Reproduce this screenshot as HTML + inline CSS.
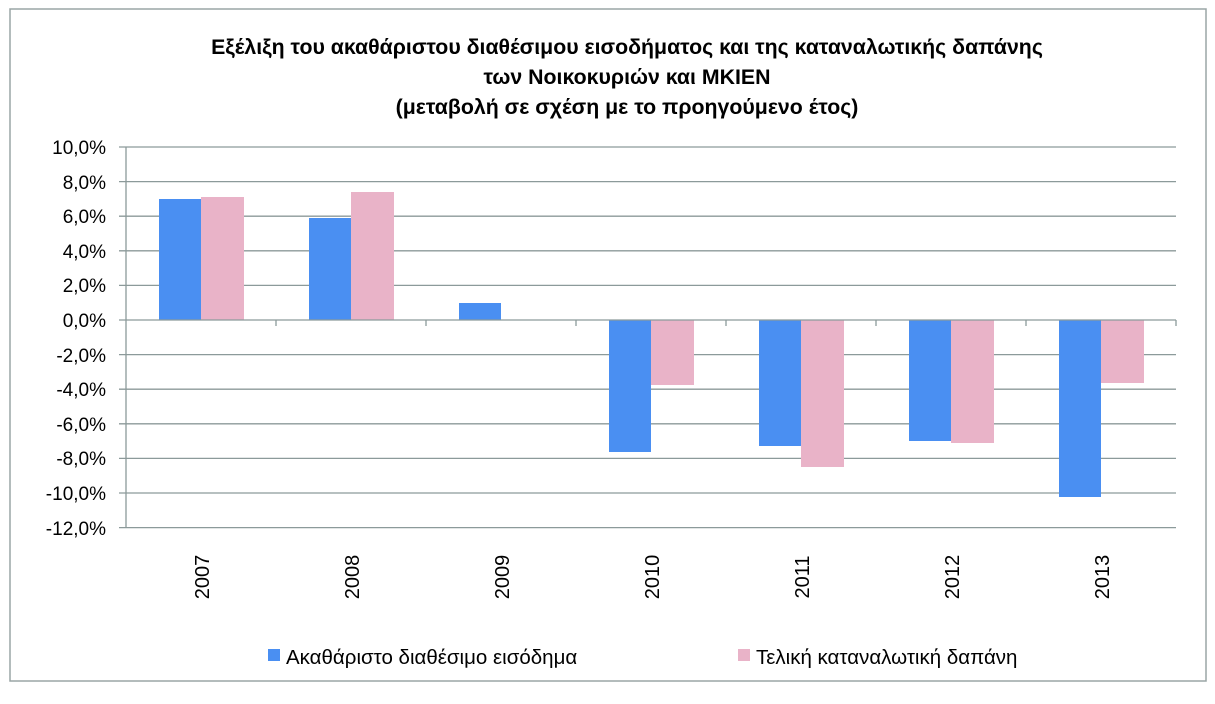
<!DOCTYPE html>
<html><head><meta charset="utf-8"><style>
body{margin:0;background:#fff}
svg{display:block}
text{font-family:"Liberation Sans","DejaVu Sans",sans-serif;fill:#000}
</style></head><body>
<svg width="1215" height="704" viewBox="0 0 1215 704">
<rect x="10" y="9" width="1196" height="672" fill="#fff" stroke="#9aa5a5" stroke-width="1.5"/>
<g text-anchor="middle" font-weight="bold" font-size="21.3">
<text x="627" y="54">Εξέλιξη του ακαθάριστου διαθέσιμου εισοδήματος και της καταναλωτικής δαπάνης</text>
<text x="627" y="84">των Νοικοκυριών και ΜΚΙΕΝ</text>
<text x="627" y="114">(μεταβολή σε σχέση με το προηγούμενο έτος)</text>
</g>
<g stroke="#8c9a9a" stroke-width="1.3">
<line x1="119" y1="147" x2="1176" y2="147"/>
<line x1="119" y1="181.6" x2="1176" y2="181.6"/>
<line x1="119" y1="216.2" x2="1176" y2="216.2"/>
<line x1="119" y1="250.8" x2="1176" y2="250.8"/>
<line x1="119" y1="285.4" x2="1176" y2="285.4"/>
<line x1="119" y1="354.6" x2="1176" y2="354.6"/>
<line x1="119" y1="389.2" x2="1176" y2="389.2"/>
<line x1="119" y1="423.8" x2="1176" y2="423.8"/>
<line x1="119" y1="458.4" x2="1176" y2="458.4"/>
<line x1="119" y1="493" x2="1176" y2="493"/>
<line x1="119" y1="527.6" x2="1176" y2="527.6"/>
<line x1="126" y1="147" x2="126" y2="528"/>
</g>
<g fill="#4a8ff2">
<rect x="159" y="199" width="42" height="121"/>
<rect x="309" y="218" width="42" height="102"/>
<rect x="459" y="303" width="42" height="17"/>
<rect x="609" y="320" width="42" height="132"/>
<rect x="759" y="320" width="42" height="126"/>
<rect x="909" y="320" width="42" height="121"/>
<rect x="1059" y="320" width="42" height="177"/>
</g>
<g fill="#e9b3c8">
<rect x="201" y="197" width="43" height="123"/>
<rect x="351" y="192" width="43" height="128"/>
<rect x="651" y="320" width="43" height="65"/>
<rect x="801" y="320" width="43" height="147"/>
<rect x="951" y="320" width="43" height="123"/>
<rect x="1101" y="320" width="43" height="63"/>
</g>
<g stroke="#8c9a9a" stroke-width="1.3">
<line x1="119" y1="320" x2="1176" y2="320"/>
<line x1="276" y1="320" x2="276" y2="326"/>
<line x1="426" y1="320" x2="426" y2="326"/>
<line x1="576" y1="320" x2="576" y2="326"/>
<line x1="726" y1="320" x2="726" y2="326"/>
<line x1="876" y1="320" x2="876" y2="326"/>
<line x1="1026" y1="320" x2="1026" y2="326"/>
<line x1="1176" y1="320" x2="1176" y2="326"/>
</g>
<g text-anchor="end" font-size="19">
<text x="106" y="154">10,0%</text>
<text x="106" y="189">8,0%</text>
<text x="106" y="223">6,0%</text>
<text x="106" y="258">4,0%</text>
<text x="106" y="292">2,0%</text>
<text x="106" y="327">0,0%</text>
<text x="106" y="362">-2,0%</text>
<text x="106" y="396">-4,0%</text>
<text x="106" y="431">-6,0%</text>
<text x="106" y="465">-8,0%</text>
<text x="106" y="500">-10,0%</text>
<text x="106" y="535">-12,0%</text>
</g>
<g font-size="20" text-anchor="middle">
<text transform="translate(209,577) rotate(-90)">2007</text>
<text transform="translate(359,577) rotate(-90)">2008</text>
<text transform="translate(509,577) rotate(-90)">2009</text>
<text transform="translate(659,577) rotate(-90)">2010</text>
<text transform="translate(809,577) rotate(-90)">2011</text>
<text transform="translate(959,577) rotate(-90)">2012</text>
<text transform="translate(1109,577) rotate(-90)">2013</text>
</g>
<rect x="268" y="649" width="12" height="12" fill="#4a8ff2"/>
<text x="286" y="664" font-size="20.5">Ακαθάριστο διαθέσιμο εισόδημα</text>
<rect x="738" y="649" width="12" height="12" fill="#e9b3c8"/>
<text x="756" y="664" font-size="20.5">Τελική καταναλωτική δαπάνη</text>
</svg>
</body></html>
